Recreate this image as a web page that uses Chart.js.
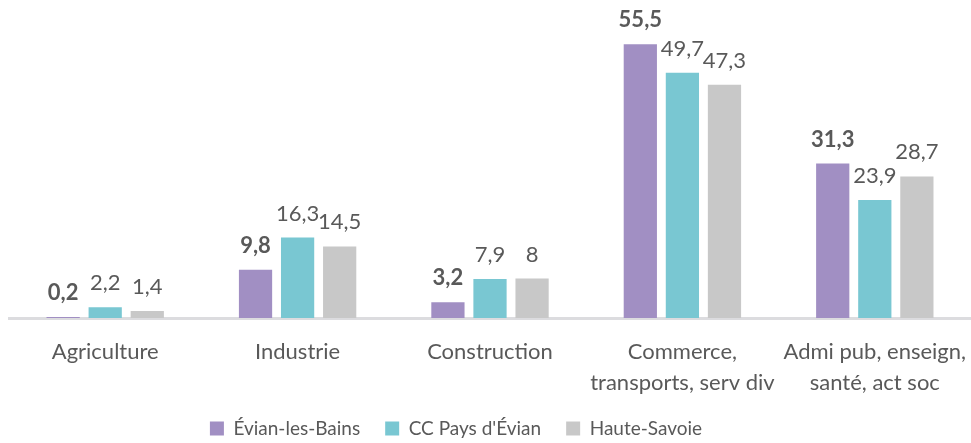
<!DOCTYPE html>
<html>
<head>
<meta charset="utf-8">
<script src="https://cdn.jsdelivr.net/npm/chart.js@4.4.1/dist/chart.umd.min.js"></script>
<style>
  html, body { margin: 0; padding: 0; background: #fff; }
  #wrap { width: 971px; height: 443px; position: relative; }
</style>
</head>
<body>
<div id="wrap"><canvas id="chart"></canvas></div>
<script>
// Secteurs d'activité (catégories)
const categories = [
    'Agriculture',
    'Industrie',
    'Construction',
    ['Commerce,', 'transports, serv div'],
    ['Admi pub, enseign,', 'santé, act soc']
];

// Séries
const seriesNames = ['Évian-les-Bains', 'CC Pays d\'Évian', 'Haute-Savoie'];
const evianValues = [0.2, 9.8, 3.2, 55.5, 31.3];
const ccPaysValues = [2.2, 16.3, 7.9, 49.7, 23.9];
const hauteSavoieValues = [1.4, 14.5, 8, 47.3, 28.7];

const seriesColors = ['#a18fc3', '#79c7d2', '#c8c8c8'];
const textColor = '#595959';
const fontFamily = 'Lato, "Open Sans", sans-serif';

/**
 * Format value with French decimal comma
 */
function formatValue(v) {
    return String(v).replace('.', ',');
}

// Draw value labels above each bar
const valueLabels = {
    id: 'valueLabels',
    afterDatasetsDraw(chart) {
        const ctx = chart.ctx;
        ctx.save();
        ctx.textAlign = 'center';
        ctx.textBaseline = 'alphabetic';
        chart.data.datasets.forEach((ds, i) => {
            const meta = chart.getDatasetMeta(i);
            ctx.fillStyle = textColor;
            ctx.font = (i === 0 ? 'bold ' : '') + '22px ' + fontFamily;
            meta.data.forEach((bar, j) => {
                ctx.fillText(formatValue(ds.data[j]), bar.x, bar.y - 17);
            });
        });
        ctx.restore();
    }
};

// The legend sits a bit left of the page centre in the original
const legendShift = {
    id: 'legendShift',
    afterLayout(chart) {
        if (chart.legend) {
            chart.legend.left -= 34;
            chart.legend.right -= 34;
        }
    }
};

const ctx = document.getElementById('chart').getContext('2d');
new Chart(ctx, {
    type: 'bar',
    data: {
        labels: categories,
        datasets: seriesNames.map((name, i) => ({
            label: name,
            data: [evianValues, ccPaysValues, hauteSavoieValues][i],
            backgroundColor: seriesColors[i],
            barPercentage: 0.79,
            categoryPercentage: 0.656
        }))
    },
    options: {
        responsive: true,
        maintainAspectRatio: false,
        animation: false,
        layout: {
            padding: { left: 9, right: 0, top: 22, bottom: -5 }
        },
        plugins: {
            legend: {
                display: true,
                position: 'bottom',
                labels: {
                    color: textColor,
                    font: { family: fontFamily, size: 19 },
                    boxWidth: 14,
                    boxHeight: 14,
                    padding: 25
                }
            },
            tooltip: { enabled: false }
        },
        scales: {
            x: {
                grid: { display: false, drawTicks: false },
                border: { color: '#dcdcdf', width: 3 },
                ticks: {
                    color: textColor,
                    font: { family: fontFamily, size: 22, lineHeight: 1.4 },
                    maxRotation: 0,
                    autoSkip: false,
                    padding: 19
                },
                afterFit(scale) {
                    scale.height = 76;
                    scale.paddingLeft = 0;
                    scale.paddingRight = 0;
                }
            },
            y: {
                display: false,
                min: 0,
                max: 60
            }
        }
    },
    plugins: [valueLabels, legendShift]
});
</script>
</body>
</html>
